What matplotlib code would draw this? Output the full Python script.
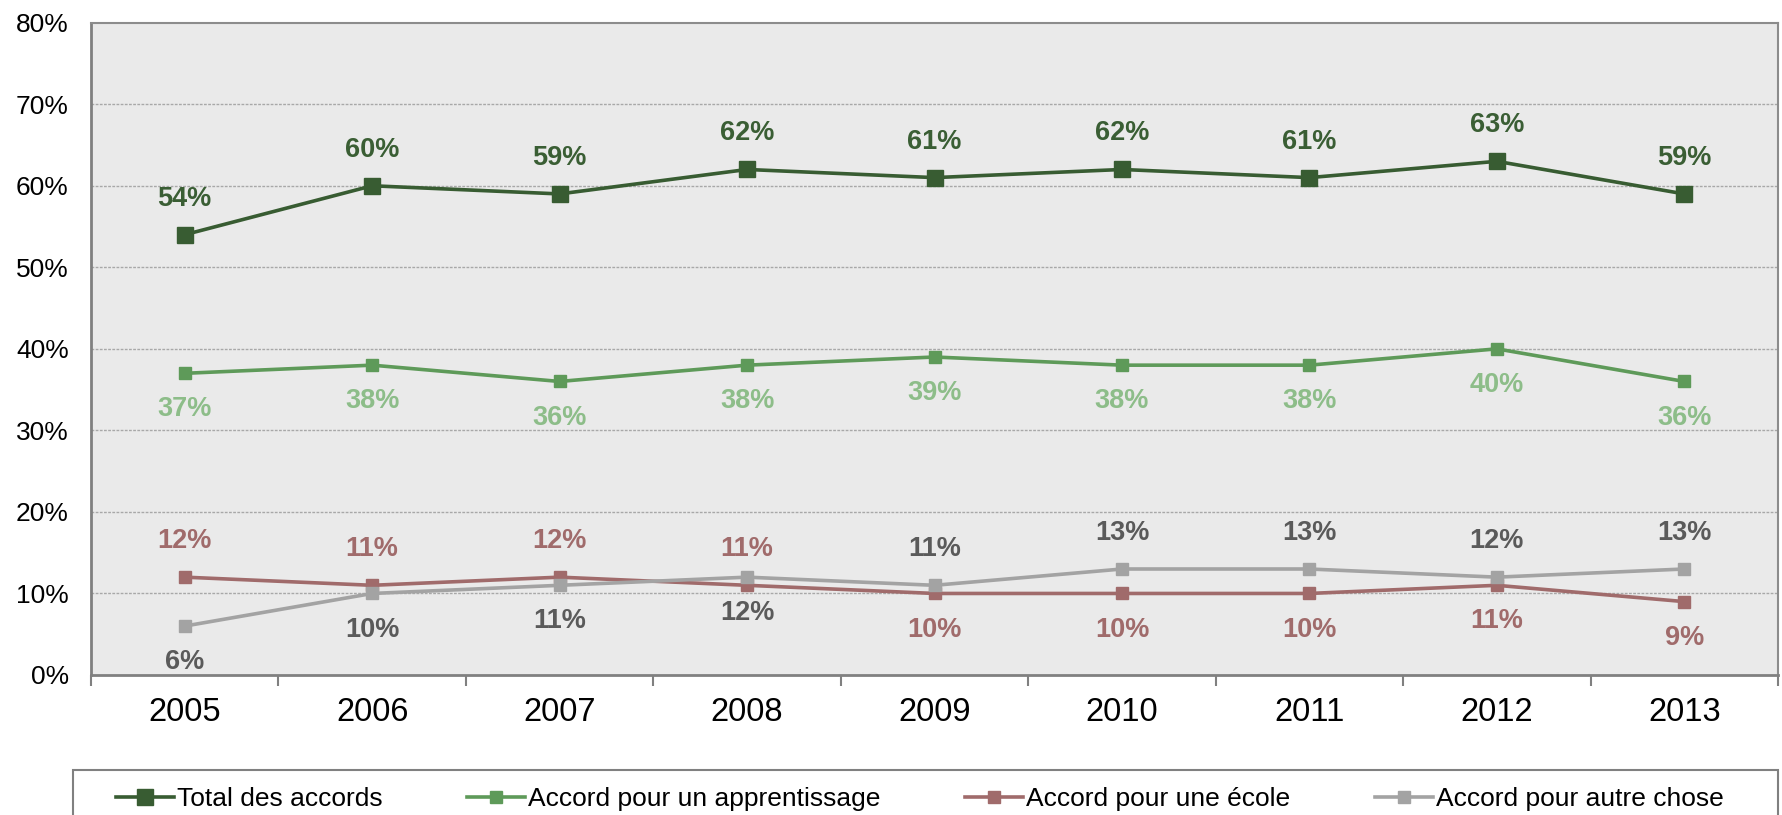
import matplotlib
matplotlib.use("Agg")
import matplotlib.pyplot as plt
from matplotlib.lines import Line2D
from matplotlib.patches import Rectangle
import numpy as np

plt.rcParams['font.family'] = ['Liberation Sans', 'DejaVu Sans']

years = ["2005", "2006", "2007", "2008", "2009", "2010", "2011", "2012", "2013"]
total = [54, 60, 59, 62, 61, 62, 61, 63, 59]
apprentissage = [37, 38, 36, 38, 39, 38, 38, 40, 36]
ecole = [12, 11, 12, 11, 10, 10, 10, 11, 9]
autre = [6, 10, 11, 12, 11, 13, 13, 12, 13]
series_names = ["Total des accords", "Accord pour un apprentissage",
                "Accord pour une école", "Accord pour autre chose"]
yticks = [0, 10, 20, 30, 40, 50, 60, 70, 80]

# label placement: +1 above, -1 below
total_pos = [1] * 9
appr_pos = [-1] * 9
ecole_pos = [1, 1, 1, 1, -1, -1, -1, -1, -1]
autre_pos = [-1, -1, -1, -1, 1, 1, 1, 1, 1]

W, H = 1782, 815
fig = plt.figure(figsize=(W/100, H/100), dpi=100)
ax = fig.add_axes([91/W, 1-675/H, (1778-91)/W, (675-22.7)/H])
ax.set_facecolor('#EAEAEA')

x = np.arange(len(years))
specs = [
    (total, '#385C32', '#3A5E34', total_pos, 11.5),
    (apprentissage, '#5E9A59', '#8DBD89', appr_pos, 9),
    (ecole, '#A06B6B', '#A06B6B', ecole_pos, 9),
    (autre, '#A3A3A3', '#5A5A5A', autre_pos, 9),
]
handles = []
for (vals, lc, tc, pos, ms), name in zip(specs, series_names):
    ax.plot(x, vals, color=lc, lw=2.6, marker='s', ms=ms,
            markeredgecolor=lc, markerfacecolor=lc, zorder=3)
    handles.append(Line2D([], [], color=lc, lw=2.6, marker='s', ms=ms,
                          markeredgecolor=lc, markerfacecolor=lc))
    for xi, v, p in zip(x, vals, pos):
        ax.annotate(f"{v}%", (xi, v), xytext=(0, 26*p), textcoords='offset points',
                    ha='center', va='center', fontsize=19.5, fontweight='bold', color=tc)

ax.set_xlim(-0.5, len(years)-0.5)
ax.set_ylim(0, 80)
ax.set_yticks(yticks)
ax.set_yticklabels([f"{t}%" for t in yticks], fontsize=19)
ax.tick_params(axis='y', length=0, pad=16)
ax.set_xticks(x)
ax.set_xticklabels(years, fontsize=23.5)
ax.set_xticks(np.arange(-0.5, len(years)), minor=True)
ax.tick_params(axis='x', which='major', length=0, pad=16)
ax.tick_params(axis='x', which='minor', length=8, width=1.5, color='#808080')

for yv in yticks[1:-1]:
    ax.axhline(yv, color='#A8A8A8', lw=1, ls=(0, (2, 1)), zorder=1)

for s in ['left', 'bottom']:
    ax.spines[s].set_color('#808080')
    ax.spines[s].set_linewidth(2)
for s in ['top', 'right']:
    ax.spines[s].set_color('#8C8C8C')
    ax.spines[s].set_linewidth(1.5)

# legend frame (extends past the bottom of the figure as in the reference)
fig.patches.append(Rectangle((73/W, -0.05), (1778-73)/W, 0.05 + 1-770/H,
                             transform=fig.transFigure, facecolor='white',
                             edgecolor='#808080', lw=1.5, zorder=0))

leg = fig.legend(handles, series_names, loc='center', mode='expand',
                 bbox_to_anchor=(116/W, 1-799/H, (1724-116)/W, 0), ncol=4, fontsize=19,
                 frameon=False, handlelength=2.2, handletextpad=0.12,
                 borderpad=0, borderaxespad=0)

fig.savefig("out.png", dpi=100)
